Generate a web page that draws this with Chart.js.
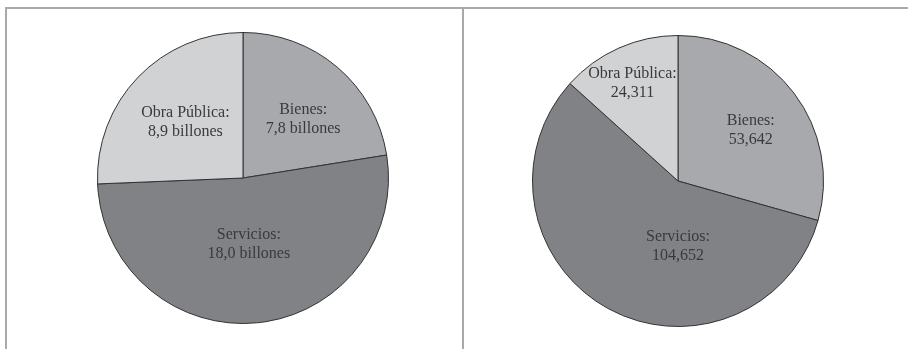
<!DOCTYPE html>
<html>
<head>
<meta charset="utf-8">
<script src="https://cdn.jsdelivr.net/npm/chart.js@4"></script>
<style>
  html, body { margin: 0; padding: 0; background: #fff; }
  #wrap { position: relative; width: 908px; height: 349px; overflow: hidden; }
  .rule { position: absolute; background: #a9a9a9; }
  canvas { position: absolute; }
</style>
</head>
<body>
<div id="wrap">
  <div class="rule" style="left:5px; top:7px; width:903px; height:2px;"></div>
  <div class="rule" style="left:5px; top:7px; width:2px; height:342px;"></div>
  <div class="rule" style="left:462px; top:7px; width:2px; height:342px;"></div>
  <canvas id="montos" width="292" height="292" style="left:97px; top:32px;"></canvas>
  <canvas id="contratos" width="292" height="292" style="left:532px; top:35px;"></canvas>
</div>
<script>
// categorias y valores de cada grafica
const categorias = ['Bienes', 'Servicios', 'Obra Pública'];
const montos = [7.8, 18.0, 8.9];          // billones de pesos
const contratos = [53642, 104652, 24311]; // numero de contratos
const colores = ['#a7a9ac', '#808285', '#d1d2d4'];

// etiquetas dentro de cada rebanada: [angulo desde arriba, fraccion del radio]
const etiquetas = {
    id: 'etiquetas',
    afterDatasetsDraw(chart, args, opts) {
        const ctx = chart.ctx;
        const meta = chart.getDatasetMeta(0);
        const data = chart.data.datasets[0].data;
        ctx.save();
        ctx.font = '16px "Liberation Serif", "DejaVu Serif", serif';
        ctx.fillStyle = '#3a3a3a';
        ctx.textAlign = 'center';
        ctx.textBaseline = 'middle';
        meta.data.forEach((arc, i) => {
            const [ang, frac] = opts.spots[i];
            const a = ang * Math.PI / 180;
            const r = arc.outerRadius * frac;
            const x = arc.x + r * Math.sin(a);
            const y = arc.y - r * Math.cos(a);
            ctx.fillText(chart.data.labels[i] + ':', x, y - 9.5);
            ctx.fillText(opts.format(data[i]), x, y + 9.5);
        });
        ctx.restore();
    }
};

function pastel(id, valores, spots, format) {
    return new Chart(document.getElementById(id), {
        type: 'pie',
        data: {
            labels: categorias,
            datasets: [{
                data: valores,
                backgroundColor: colores,
                borderColor: '#333333',
                borderWidth: 1
            }]
        },
        options: {
            responsive: false,
            animation: false,
            layout: { padding: 0 },
            plugins: {
                legend: { display: false },
                tooltip: { enabled: false },
                etiquetas: { spots: spots, format: format }
            }
        },
        plugins: [etiquetas]
    });
}

pastel('montos', montos,
    [[45.5, 0.58], [175, 0.46], [314, 0.55]],
    v => v.toFixed(1).replace('.', ',') + ' billones');

pastel('contratos', contratos,
    [[55, 0.61], [180, 0.45], [335, 0.74]],
    v => v.toLocaleString('en-US'));
</script>
</body>
</html>
